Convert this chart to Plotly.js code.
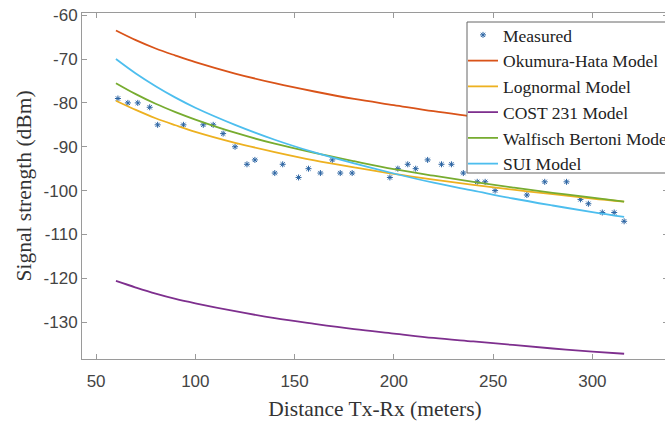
<!DOCTYPE html>
<html>
<head>
<meta charset="utf-8">
<script src="https://cdn.plot.ly/plotly-3.0.1.min.js"></script>
<style>
html,body{margin:0;padding:0;overflow:hidden;background:#fff;}
#chart{width:700px;height:421px;}
</style>
</head>
<body>
<div id="chart"></div>
<script>
// Measured samples
const measX = [61, 66, 71, 77, 81, 94, 104, 109, 114, 120, 126, 130, 140, 144, 152, 157, 163, 169, 173, 179, 198, 202, 207, 211, 217, 224, 229, 235, 242, 246, 251, 267, 276, 287, 294, 298, 305, 311, 316];
const measY = [-79, -80, -80, -81, -85, -85, -85, -85, -87, -90, -94, -93, -96, -94, -97, -95, -96, -93, -96, -96, -97, -95, -94, -95, -93, -94, -94, -96, -98, -98, -100, -101, -98, -98, -102, -103, -105, -105, -107];

// Model curves
const modelX = [60, 70, 80, 90, 100, 120, 140, 160, 180, 200, 220, 240, 260, 280, 300, 316];
const okumuraHata = [-63.5, -65.7, -67.6, -69.2, -70.7, -73.3, -75.5, -77.4, -79.1, -80.5, -81.9, -83.1, -84.3, -85.3, -86.3, -87.0];
const lognormal = [-79.5, -81.6, -83.5, -85.1, -86.6, -89.1, -91.2, -93.1, -94.7, -96.2, -97.5, -98.7, -99.8, -100.8, -101.8, -102.5];
const cost231 = [-120.6, -122.1, -123.5, -124.7, -125.7, -127.5, -129.1, -130.4, -131.6, -132.6, -133.6, -134.4, -135.2, -136.0, -136.7, -137.2];
const walfischBertoni = [-75.5, -78.0, -80.2, -82.1, -83.8, -86.8, -89.3, -91.4, -93.3, -95.1, -96.6, -98.0, -99.3, -100.5, -101.6, -102.5];
const sui = [-70.0, -73.3, -76.2, -78.8, -81.1, -85.0, -88.4, -91.3, -93.8, -96.1, -98.2, -100.0, -101.8, -103.4, -104.9, -106.0];

// Ticks
const xTickVals = [50, 100, 150, 200, 250, 300];
const xTickText = ['50', '100', '150', '200', '250', '300'];
const yTickVals = [-60, -70, -80, -90, -100, -110, -120, -130];
const yTickText = ['-60', '-70', '-80', '-90', '-100', '-110', '-120', '-130'];

const seriesNames = ['Measured', 'Okumura-Hata Model', 'Lognormal Model', 'COST 231 Model', 'Walfisch Bertoni Model', 'SUI Model'];
const colors = ['#2b64a3', '#D95319', '#EDB120', '#7E2F8E', '#77AC30', '#4DBEEE'];

const serif = 'Liberation Serif, DejaVu Serif, serif';
const sans = 'Liberation Sans, Arial, sans-serif';

function lineTrace(y, i) {
  return {x: modelX, y: y, type: 'scatter', mode: 'lines', name: seriesNames[i],
    line: {color: colors[i], width: 1.8, shape: 'spline'}};
}

const traces = [
  {x: measX, y: measY, type: 'scatter', mode: 'markers', name: seriesNames[0],
   marker: {symbol: 'asterisk-open', size: 5, color: colors[0], line: {color: colors[0], width: 1}}},
  lineTrace(okumuraHata, 1),
  lineTrace(lognormal, 2),
  lineTrace(cost231, 3),
  lineTrace(walfischBertoni, 4),
  lineTrace(sui, 5)
];

const plotL = 82, plotR = 668, plotT = 13, plotB = 359;
const pw = plotR - plotL, ph = plotB - plotT;

const axisCommon = {
  showgrid: false, zeroline: false, showline: true, linecolor: '#9a9a9a', linewidth: 1,
  mirror: 'ticks', ticks: 'inside', ticklen: 5, tickcolor: '#9a9a9a', tickwidth: 1,
  tickmode: 'array', tickfont: {family: sans, size: 17, color: '#444'}
};

const layout = {
  width: 700, height: 421,
  margin: {l: plotL, r: 700 - plotR, t: plotT, b: 421 - plotB},
  paper_bgcolor: '#fff', plot_bgcolor: '#fff',
  showlegend: true,
  xaxis: Object.assign({}, axisCommon, {
    range: [42.9, 338.1], tickvals: xTickVals, ticktext: xTickText, ticklabelstandoff: 7,
    title: {text: 'Distance Tx-Rx (meters)', font: {family: serif, size: 21.5, color: '#333'}, standoff: 10}
  }),
  yaxis: Object.assign({}, axisCommon, {
    range: [-138.4, -59.5], tickvals: yTickVals, ticktext: yTickText,
    title: {text: 'Signal strength (dBm)', font: {family: serif, size: 21.5, color: '#333'}, standoff: 6}
  }),
  legend: {
    x: (463 - plotL) / pw, y: (plotB - 17) / ph, xanchor: 'left', yanchor: 'top',
    bgcolor: 'rgba(0,0,0,0)', borderwidth: 0,
    font: {family: serif, size: 17.5, color: '#222'}, traceorder: 'normal'
  },
  shapes: [{
    type: 'rect', xref: 'paper', yref: 'paper', layer: 'above',
    x0: (467 - plotL) / pw, x1: 1.2, y0: (plotB - 173) / ph, y1: (plotB - 22) / ph,
    fillcolor: '#fff', line: {color: '#666', width: 1}
  }]
};

Plotly.newPlot('chart', traces, layout, {displayModeBar: false, staticPlot: true});
</script>
</body>
</html>
